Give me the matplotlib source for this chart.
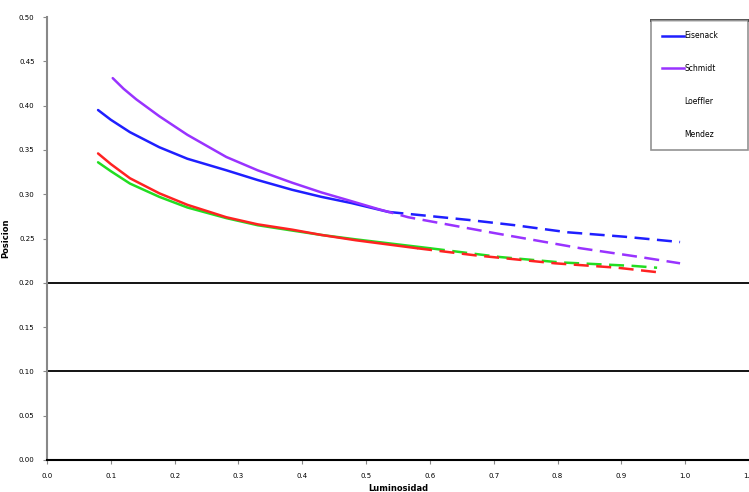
import matplotlib.pyplot as plt
import numpy as np
from matplotlib.lines import Line2D

# valores
x_azul = [0.08, 0.10, 0.13, 0.176, 0.22, 0.281, 0.33, 0.384, 0.43, 0.477, 0.535,
          0.660, 0.733, 0.816, 0.905, 0.992]
y_azul = [0.395, 0.384, 0.370, 0.353, 0.340, 0.327, 0.316, 0.305, 0.297, 0.290, 0.280,
          0.271, 0.265, 0.257, 0.252, 0.246]

x_morado = [0.103, 0.12, 0.14, 0.176, 0.22, 0.281, 0.33, 0.384, 0.43, 0.473, 0.52,
            0.566, 0.702, 0.836, 0.930, 0.992]
y_morado = [0.431, 0.419, 0.407, 0.388, 0.367, 0.342, 0.327, 0.313, 0.302, 0.293, 0.283,
            0.274, 0.256, 0.239, 0.229, 0.222]

x_rojo = [0.080, 0.10, 0.13, 0.176, 0.22, 0.281, 0.33, 0.384, 0.43, 0.484, 0.58,
          0.671, 0.796, 0.894, 0.956]
y_rojo = [0.346, 0.334, 0.318, 0.301, 0.288, 0.274, 0.266, 0.260, 0.254, 0.248, 0.239,
          0.231, 0.222, 0.217, 0.212]

x_verde = [0.080, 0.10, 0.13, 0.176, 0.22, 0.281, 0.33, 0.384, 0.43, 0.484, 0.60,
           0.711, 0.805, 0.920, 0.956]
y_verde = [0.336, 0.326, 0.312, 0.297, 0.285, 0.273, 0.265, 0.259, 0.254, 0.249, 0.239,
           0.229, 0.223, 0.219, 0.217]

nombres = ['Eisenack', 'Schmidt', 'Loeffler', 'Mendez']
colores = ['#1f1fff', '#9933ff', '#ff2222', '#22dd22']
lineas_h = [0.20, 0.10]

fig = plt.figure(figsize=(7.49, 4.92), dpi=100)
ax = fig.add_axes([47/749, 32/492, 1 - 47/749, 443/492])

series = [(x_azul, y_azul), (x_morado, y_morado), (x_rojo, y_rojo), (x_verde, y_verde)]
orden = [3, 2, 0, 1]
corte = 0.5
for i in orden:
    xs, ys = np.array(series[i][0]), np.array(series[i][1])
    k = np.searchsorted(xs, corte)
    ax.plot(xs[:k + 1], ys[:k + 1], color=colores[i], lw=1.8,
            solid_capstyle='round', solid_joinstyle='round')
    ax.plot(xs[k:], ys[k:], color=colores[i], lw=1.8, dashes=(6, 3))

for h in lineas_h:
    ax.axhline(h, color='black', lw=1.3)

ax.set_xlim(0, 1.095)
ax.set_ylim(0, 0.5)
ax.set_xticks(np.arange(0, 1.11, 0.1))
ax.set_xticklabels([f"{t:.1f}" for t in np.arange(0, 1.11, 0.1)])
ax.set_yticks(np.arange(0, 0.501, 0.05))
ax.set_yticklabels([f"{t:.2f}" for t in np.arange(0, 0.501, 0.05)])
ax.tick_params(labelsize=5, length=3, color='#888888', pad=6)
for s in ['top', 'right']:
    ax.spines[s].set_visible(False)
ax.spines['left'].set_color('#888888')
ax.spines['left'].set_linewidth(1.5)
ax.spines['bottom'].set_color('black')
ax.spines['bottom'].set_linewidth(1.5)

ax.set_xlabel('Luminosidad', fontsize=6, fontweight='bold', labelpad=4)
ax.set_ylabel('Posicion', fontsize=6, fontweight='bold', labelpad=6)

handles = [Line2D([], [], color=colores[0], lw=1.8),
           Line2D([], [], color=colores[1], lw=1.8),
           Line2D([], [], color='none'),
           Line2D([], [], color='none')]
leg = fig.legend(handles, nombres, loc='upper left',
                 bbox_to_anchor=(651/749, 1 - 153/492, 97/749, 133/492),
                 mode='expand', fontsize=5.5, labelspacing=3.1,
                 handlelength=2.8, handletextpad=0.1, borderpad=1.5,
                 borderaxespad=0, fancybox=False, frameon=True)
leg.get_frame().set_edgecolor('#777777')
leg.get_frame().set_linewidth(1.2)
fig.add_artist(Line2D([651/749, 748/749], [1 - 20/492, 1 - 20/492],
                      transform=fig.transFigure, color='black', lw=2))

fig.savefig('out.png', dpi=100)
